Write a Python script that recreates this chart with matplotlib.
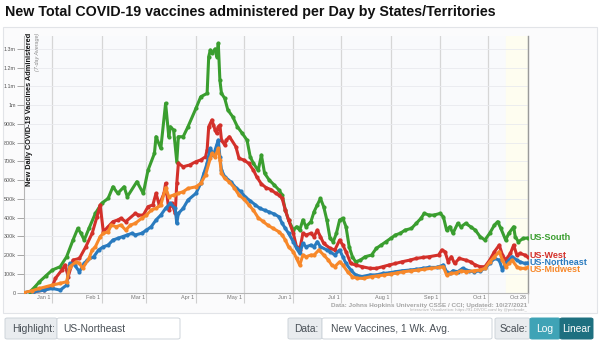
import numpy as np
import pandas as pd
import matplotlib.pyplot as plt
import matplotlib.dates as mdates
import matplotlib.transforms as mtransforms
from matplotlib.patches import Rectangle, FancyBboxPatch
from matplotlib.lines import Line2D

plt.rcParams['font.family'] = ['Liberation Sans', 'DejaVu Sans']

# 7-day average of new vaccine doses per day, in thousands (MM-DD; December is 2020)
south = [("12-14", 0), ("12-18", 5), ("12-21", 30), ("12-24", 59), ("12-28", 90), ("01-01", 121),
         ("01-06", 139), ("01-10", 192), ("01-14", 281), ("01-17", 343), ("01-19", 317), ("01-21", 281),
         ("01-24", 343), ("01-28", 423), ("02-01", 477), ("02-05", 503), ("02-08", 565), ("02-11", 530),
         ("02-15", 565), ("02-17", 512), ("02-23", 592), ("02-27", 530), ("03-02", 654), ("03-06", 743),
         ("03-07", 832), ("03-10", 770), ("03-13", 1010), ("03-15", 832), ("03-16", 885), ("03-18", 868),
         ("03-20", 699), ("03-21", 832), ("03-24", 832), ("03-27", 885), ("04-01", 983), ("04-04", 1045),
         ("04-08", 1063), ("04-09", 1259), ("04-10", 1294), ("04-11", 1277), ("04-13", 1300), ("04-14", 1259),
         ("04-15", 1330), ("04-16", 1134), ("04-17", 1063), ("04-19", 1037), ("04-21", 974), ("04-24", 939),
         ("04-27", 885), ("04-30", 850), ("05-03", 814), ("05-05", 725), ("05-07", 690), ("05-10", 652),
         ("05-12", 734), ("05-14", 637), ("05-17", 600), ("05-20", 575), ("05-23", 548), ("05-25", 521),
         ("05-27", 441), ("05-29", 388), ("06-01", 334), ("06-03", 352), ("06-05", 334), ("06-07", 388),
         ("06-09", 352), ("06-12", 379), ("06-14", 432), ("06-16", 468), ("06-18", 503), ("06-20", 459),
         ("06-22", 388), ("06-24", 290), ("06-26", 272), ("06-28", 317), ("06-30", 388), ("07-02", 397),
         ("07-04", 352), ("07-06", 245), ("07-08", 192), ("07-10", 165), ("07-13", 174), ("07-16", 192),
         ("07-20", 201), ("07-23", 237), ("07-26", 254), ("07-29", 272), ("08-01", 290), ("08-04", 308),
         ("08-07", 317), ("08-10", 334), ("08-14", 343), ("08-17", 370), ("08-20", 397), ("08-22", 423),
         ("08-25", 414), ("08-28", 414), ("09-01", 423), ("09-03", 405), ("09-05", 334), ("09-07", 352),
         ("09-09", 317), ("09-12", 370), ("09-14", 352), ("09-17", 370), ("09-20", 352), ("09-23", 334),
         ("09-26", 299), ("09-29", 281), ("10-02", 317), ("10-05", 361), ("10-07", 379), ("10-09", 343),
         ("10-12", 281), ("10-14", 317), ("10-17", 352), ("10-18", 299), ("10-20", 272), ("10-23", 290),
         ("10-26", 292)]

west = [("12-14", 0), ("12-20", 5), ("12-27", 14), ("01-01", 32), ("01-03", 77), ("01-07", 121),
        ("01-09", 148), ("01-11", 86), ("01-14", 174), ("01-18", 183), ("01-22", 245), ("01-26", 317),
        ("01-29", 405), ("01-31", 468), ("02-02", 325), ("02-05", 352), ("02-08", 379), ("02-11", 388),
        ("02-13", 397), ("02-16", 379), ("02-22", 423), ("02-24", 414), ("02-27", 414), ("03-02", 459),
        ("03-05", 468), ("03-07", 530), ("03-09", 468), ("03-12", 530), ("03-13", 583), ("03-15", 441),
        ("03-17", 477), ("03-19", 423), ("03-20", 583), ("03-21", 690), ("03-24", 672), ("03-28", 681),
        ("04-01", 699), ("04-04", 708), ("04-07", 725), ("04-08", 761), ("04-09", 885), ("04-11", 921),
        ("04-12", 894), ("04-13", 868), ("04-14", 850), ("04-15", 885), ("04-16", 894), ("04-17", 814),
        ("04-19", 788), ("04-20", 814), ("04-22", 832), ("04-26", 779), ("04-28", 716), ("05-01", 708),
        ("05-04", 690), ("05-07", 654), ("05-09", 619), ("05-12", 580), ("05-15", 560), ("05-18", 550),
        ("05-21", 530), ("05-23", 521), ("05-25", 503), ("05-27", 441), ("05-29", 388), ("06-01", 317),
        ("06-03", 245), ("06-05", 228), ("06-07", 317), ("06-09", 308), ("06-12", 317), ("06-14", 299),
        ("06-16", 334), ("06-18", 299), ("06-20", 263), ("06-24", 237), ("06-27", 228), ("06-30", 281),
        ("07-02", 254), ("07-04", 219), ("07-07", 156), ("07-10", 148), ("07-14", 139), ("07-19", 130),
        ("07-23", 130), ("07-27", 139), ("07-31", 148), ("08-04", 156), ("08-08", 165), ("08-13", 174),
        ("08-17", 183), ("08-21", 188), ("08-25", 192), ("08-31", 201), ("09-02", 228), ("09-04", 219),
        ("09-06", 165), ("09-08", 192), ("09-10", 156), ("09-13", 183), ("09-17", 174), ("09-20", 165),
        ("09-23", 148), ("09-26", 139), ("09-29", 139), ("10-02", 174), ("10-05", 219), ("10-08", 254),
        ("10-10", 201), ("10-12", 174), ("10-15", 210), ("10-17", 254), ("10-19", 201), ("10-21", 210),
        ("10-24", 201), ("10-26", 190)]

northeast = [("12-14", 0), ("12-20", 5), ("12-27", 14), ("01-01", 23), ("01-06", 14), ("01-10", 41),
             ("01-12", 157), ("01-15", 148), ("01-18", 112), ("01-21", 157), ("01-23", 174), ("01-27", 192),
             ("01-30", 228), ("02-02", 245), ("02-05", 254), ("02-08", 281), ("02-11", 290), ("02-14", 299),
             ("02-17", 308), ("02-20", 317), ("02-22", 308), ("02-26", 317), ("03-01", 334), ("03-04", 352),
             ("03-07", 388), ("03-10", 414), ("03-13", 450), ("03-16", 477), ("03-19", 450), ("03-20", 370),
             ("03-21", 423), ("03-24", 450), ("03-27", 494), ("04-01", 530), ("04-04", 583), ("04-06", 637),
             ("04-08", 690), ("04-10", 770), ("04-12", 734), ("04-14", 788), ("04-15", 814), ("04-16", 725),
             ("04-17", 654), ("04-19", 619), ("04-23", 590), ("04-26", 560), ("04-29", 540), ("05-02", 510),
             ("05-05", 490), ("05-08", 470), ("05-11", 450), ("05-14", 440), ("05-17", 430), ("05-20", 420),
             ("05-23", 405), ("05-25", 370), ("05-27", 343), ("05-29", 317), ("06-01", 272), ("06-03", 237),
             ("06-05", 210), ("06-07", 263), ("06-09", 245), ("06-12", 254), ("06-14", 245), ("06-16", 272),
             ("06-18", 245), ("06-22", 228), ("06-24", 219), ("06-27", 201), ("06-30", 228), ("07-02", 192),
             ("07-04", 156), ("07-07", 121), ("07-10", 95), ("07-14", 86), ("07-19", 95), ("07-23", 95),
             ("07-27", 103), ("07-31", 106), ("08-04", 112), ("08-08", 117), ("08-13", 121), ("08-17", 125),
             ("08-21", 130), ("08-25", 135), ("08-30", 135), ("09-03", 148), ("09-05", 112), ("09-07", 103),
             ("09-09", 117), ("09-12", 112), ("09-15", 130), ("09-19", 117), ("09-22", 112), ("09-26", 117),
             ("09-29", 130), ("10-02", 156), ("10-05", 183), ("10-08", 174), ("10-10", 121), ("10-12", 156),
             ("10-14", 174), ("10-16", 192), ("10-19", 174), ("10-21", 165), ("10-24", 156), ("10-26", 160)]

midwest = [("12-14", 0), ("12-19", 10), ("12-24", 23), ("01-01", 41), ("01-06", 50), ("01-10", 59),
           ("01-12", 139), ("01-16", 165), ("01-18", 157), ("01-20", 130), ("01-24", 183), ("01-26", 228),
           ("01-28", 245), ("01-31", 299), ("02-02", 317), ("02-05", 325), ("02-07", 361), ("02-10", 352),
           ("02-13", 361), ("02-16", 334), ("02-19", 361), ("02-22", 370), ("02-26", 397), ("03-01", 414),
           ("03-04", 441), ("03-07", 450), ("03-10", 468), ("03-13", 560), ("03-15", 512), ("03-18", 521),
           ("03-21", 530), ("03-24", 539), ("03-27", 556), ("04-01", 565), ("04-04", 583), ("04-07", 628),
           ("04-10", 717), ("04-11", 743), ("04-13", 725), ("04-15", 770), ("04-16", 708), ("04-17", 637),
           ("04-19", 610), ("04-22", 590), ("04-25", 560), ("04-28", 520), ("05-01", 500), ("05-04", 470),
           ("05-07", 440), ("05-10", 400), ("05-13", 380), ("05-16", 360), ("05-19", 345), ("05-23", 325),
           ("05-25", 308), ("05-27", 281), ("05-29", 245), ("06-01", 219), ("06-03", 183), ("06-05", 148),
           ("06-07", 201), ("06-09", 192), ("06-12", 201), ("06-14", 201), ("06-17", 228), ("06-20", 201),
           ("06-23", 174), ("06-25", 148), ("06-27", 139), ("06-30", 165), ("07-02", 148), ("07-05", 112),
           ("07-08", 86), ("07-11", 77), ("07-15", 77), ("07-20", 86), ("07-24", 90), ("07-28", 95),
           ("08-01", 100), ("08-05", 106), ("08-09", 112), ("08-14", 117), ("08-18", 121), ("08-22", 125),
           ("08-26", 130), ("08-31", 135), ("09-03", 139), ("09-05", 95), ("09-08", 103), ("09-11", 106),
           ("09-14", 117), ("09-17", 112), ("09-22", 117), ("09-26", 121), ("09-29", 130), ("10-02", 165),
           ("10-05", 192), ("10-08", 219), ("10-10", 174), ("10-12", 139), ("10-14", 156), ("10-16", 174),
           ("10-19", 139), ("10-21", 130), ("10-24", 130), ("10-26", 135)]

series_names = ["US-South", "US-West", "US-Northeast", "US-Midwest"]
series_data = [south, west, northeast, midwest]
series_colors = ["#3a9e2f", "#d3302a", "#2a7bbf", "#f7882a"]

month_ticks = ["2021-01-01", "2021-02-01", "2021-03-01", "2021-04-01", "2021-05-01",
               "2021-06-01", "2021-07-01", "2021-08-01", "2021-09-01", "2021-10-01", "2021-10-26"]
month_labels = ["Jan 1", "Feb 1", "Mar 1", "Apr 1", "May 1", "Jun 1", "Jul 1",
                "Aug 1", "Sep 1", "Oct 1", "Oct 26"]
y_ticks = [0, 100, 200, 300, 400, 500, 600, 700, 800, 900, 1000, 1100, 1200, 1300]
y_labels = ["0", "100k", "200k", "300k", "400k", "500k", "600k", "700k", "800k", "900k",
            "1m", "1.1m", "1.2m", "1.3m"]


def to_frame(points):
    dates = [("2020-" if md.startswith("12") else "2021-") + md for md, _ in points]
    return pd.DataFrame({"date": pd.to_datetime(dates), "value": [v for _, v in points]})


W, H = 600, 343
fig = plt.figure(figsize=(W / 100, H / 100), dpi=100)


def fx(px):
    return px / W


def fy(py):
    return 1 - py / H


# card behind the chart
fig.patches.append(Rectangle((fx(3), fy(313)), fx(594), 286 / H, transform=fig.transFigure,
                             facecolor="#fbfbfc", edgecolor="#e2e4e8", lw=0.8, zorder=-5))

fig.text(fx(5), fy(12), "New Total COVID-19 vaccines administered per Day by States/Territories",
         fontsize=10.3, fontweight="bold", ha="left", va="center", color="#111")

ax = fig.add_axes([fx(24), fy(293.3), fx(504), 257.3 / H])
ax.set_facecolor("#f9fafc")

jan1 = mdates.date2num(pd.Timestamp("2021-01-01"))
ax.set_xlim(jan1 - 17.7, jan1 + 297.7)
ax.set_ylim(-3, 1369)

# recent-days band
ax.axvspan(pd.Timestamp("2021-10-12"), pd.Timestamp("2021-10-26"), color="#fefdf0", zorder=0)

label_nudge = {"US-South": 0, "US-West": -1.5, "US-Northeast": 0, "US-Midwest": 2}
for name, pts, color in zip(series_names, series_data, series_colors):
    df = to_frame(pts)
    ax.plot(df["date"], df["value"], color=color, lw=2.2, marker="o", ms=3,
            markeredgewidth=0, zorder=3, solid_joinstyle="round")
    ax.text(df["date"].iloc[-1], df["value"].iloc[-1], name, color=color,
            fontsize=6.5, fontweight="bold", ha="left", va="center", clip_on=False,
            transform=mtransforms.offset_copy(ax.transData, fig=fig, x=2,
                                              y=-label_nudge[name], units="dots"))

ax.set_yticks(y_ticks)
ax.set_yticklabels(y_labels)
ax.set_xticks(pd.to_datetime(month_ticks))
ax.set_xticklabels(month_labels)
ax.tick_params(axis="y", length=5, width=0.6, color="#999", labelsize=3.9, labelcolor="#555", pad=1)
ax.tick_params(axis="x", length=7, width=0.8, color="#cfcfcf", labelsize=4, labelcolor="#777", pad=-6)
for lab in ax.get_xticklabels():
    lab.set_horizontalalignment("right")
    lab.set_transform(lab.get_transform() + mtransforms.ScaledTranslation(-1.5 / 100, 0, fig.dpi_scale_trans))

ax.grid(axis="y", color="#e9eaee", lw=0.6, zorder=1)
ax.grid(axis="x", color="#d6d6d6", lw=0.9, zorder=1)
ax.set_axisbelow(True)
ax.spines["top"].set_visible(False)
for side in ["left", "bottom"]:
    ax.spines[side].set_color("#b5b5b5")
    ax.spines[side].set_linewidth(0.8)
ax.spines["right"].set_color("#9a9a9a")
ax.spines["right"].set_linewidth(1)

fig.text(fx(29.5), fy(33), "New Daily COVID-19 Vaccines Administered", rotation=90,
         fontsize=5.3, fontweight="bold", ha="center", va="top", color="#111")
fig.text(fx(37.5), fy(33), "(7-day Average)", rotation=90, fontsize=3.9, style="italic",
         ha="center", va="top", color="#888")

fig.text(fx(527), fy(305.5), "Data: Johns Hopkins University CSSE / CCI; Updated: 10/27/2021",
         fontsize=4.6, fontweight="bold", ha="right", va="center", color="#a5a5a5")
fig.text(fx(527), fy(310.5), "Interactive Visualization: https://91-DIVOC.com/ by @profwade_",
         fontsize=3, ha="right", va="center", color="#b0b0b0")


# control bar along the bottom
def box(x0, x1, face, edge="#ced4da"):
    fig.patches.append(FancyBboxPatch((fx(x0), fy(339)), fx(x1 - x0), 21 / H,
                                      boxstyle="round,pad=0,rounding_size=0.004",
                                      transform=fig.transFigure, facecolor=face,
                                      edgecolor=edge, lw=0.7, zorder=2))


def chevron(xc):
    fig.lines.append(Line2D([fx(xc - 2.2), fx(xc), fx(xc + 2.2)], [fy(327), fy(329.3), fy(327)],
                            transform=fig.transFigure, color="#333", lw=0.9))


ctrl_kw = dict(fontsize=7.4, va="center", color="#495057")
box(5, 57, "#e9ecef")
fig.text(fx(12), fy(328.5), "Highlight:", **ctrl_kw)
box(57, 180, "white")
fig.text(fx(63), fy(328.5), "US-Northeast", **ctrl_kw)
chevron(174)

box(288, 322, "#e9ecef")
fig.text(fx(294), fy(328.5), "Data:", **ctrl_kw)
box(322, 492, "white")
fig.text(fx(331), fy(328.5), "New Vaccines, 1 Wk. Avg.", **ctrl_kw)
chevron(486)

box(495, 530, "#e9ecef")
fig.text(fx(500), fy(328.5), "Scale:", **ctrl_kw)
box(530, 560, "#3fa3b6", edge="#3fa3b6")
fig.text(fx(545), fy(328.5), "Log", fontsize=7.4, va="center", ha="center", color="white")
box(560, 593, "#1e7080", edge="#1e7080")
fig.text(fx(576.5), fy(328.5), "Linear", fontsize=7.4, va="center", ha="center", color="white")

fig.savefig("out.png", dpi=100)
